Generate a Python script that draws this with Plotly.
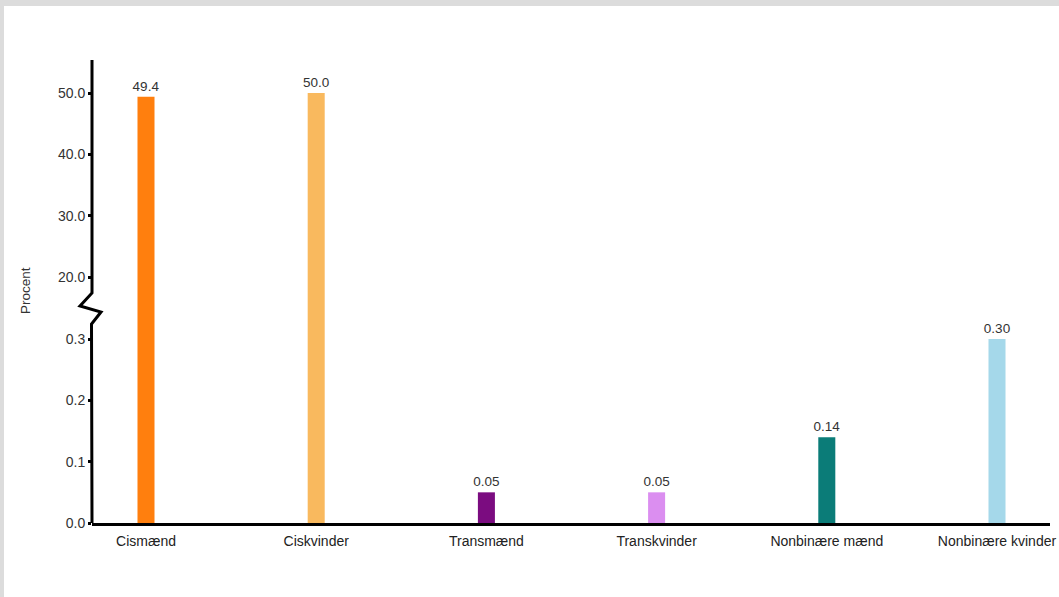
import plotly.graph_objects as go

categories = ["Cismænd", "Ciskvinder", "Transmænd", "Transkvinder", "Nonbinære mænd", "Nonbinære kvinder"]
values = [49.4, 50.0, 0.05, 0.05, 0.14, 0.30]
value_labels = ["49.4", "50.0", "0.05", "0.05", "0.14", "0.30"]
colors = ["#FF7F0E", "#F9B95E", "#7B0C80", "#DB8EF0", "#0B7C78", "#A5D8EA"]
lower_ticks = [0.0, 0.1, 0.2, 0.3]
upper_ticks = [20.0, 30.0, 40.0, 50.0]
y_title = "Procent"

# pixel geometry of plot area
L, R, T, B = 92, 1050, 60, 523
W, H = 1059, 597
pw, ph = R - L, B - T
brk = 309
lower_top = (B - brk) / ph

def px(x):
    return (x - L) / pw

def py(y):
    return (B - y) / ph

small = [v < 1 for v in values]
lower_text = [lab if s else "" for lab, s in zip(value_labels, small)]
upper_text = ["" if s else lab for lab, s in zip(value_labels, small)]

xs = list(range(len(categories)))
font = "Liberation Sans, Arial, sans-serif"
label_font = dict(size=13.5, color="#333", family=font)

fig = go.Figure()
fig.add_trace(go.Bar(x=xs, y=values, marker=dict(color=colors, line=dict(width=0)), width=0.1,
                     text=lower_text, textposition="outside", textfont=label_font, constraintext="none",
                     xaxis="x", yaxis="y", hoverinfo="skip", showlegend=False))
fig.add_trace(go.Bar(x=xs, y=values, marker=dict(color=colors, line=dict(width=0)), width=0.1,
                     text=upper_text, textposition="outside", textfont=label_font, constraintext="none",
                     xaxis="x", yaxis="y2", hoverinfo="skip", showlegend=False))

x_lo = -(146 - L) / 170.2
x_hi = len(categories) - 1 + (R - 997) / 170.2

zig = (f"M {px(92)},{py(T)} L {px(92)},{py(293)} L {px(80)},{py(306)} "
       f"L {px(101)},{py(312)} L {px(91.5)},{py(324)} L {px(92)},{py(B)}")

tickfont = dict(size=14, color="#333", family=font)

fig.update_layout(
    width=W, height=H,
    margin=dict(l=L, r=W - R, t=T, b=H - B),
    paper_bgcolor="#DCDCDC", plot_bgcolor="rgba(0,0,0,0)",
    font=dict(family=font, size=14, color="#333"),
    xaxis=dict(domain=[0, 1], anchor="y", range=[x_lo, x_hi], tickmode="array", tickvals=xs,
               ticktext=categories, showline=True, linecolor="black", linewidth=3,
               showgrid=False, zeroline=False, ticks="", ticklabelstandoff=3, automargin=False,
               tickfont=dict(size=14, color="#222", family=font)),
    yaxis=dict(domain=[0, lower_top], range=[0, (B - brk) / 613.3], tickmode="array",
               tickvals=lower_ticks, ticktext=[f"{t:.1f}" for t in lower_ticks], automargin=False,
               showline=False, showgrid=False, zeroline=False, ticks="outside",
               ticklen=3, tickwidth=3, tickcolor="black", tickfont=tickfont),
    yaxis2=dict(domain=[lower_top, 1], anchor="x", automargin=False,
                range=[20 - (brk - 277) / 6.133, 50 + (93 - T) / 6.133], tickmode="array",
                tickvals=upper_ticks, ticktext=[f"{t:.1f}" for t in upper_ticks],
                showline=False, showgrid=False, zeroline=False, ticks="outside",
                ticklen=3, tickwidth=3, tickcolor="black", tickfont=tickfont),
    shapes=[
        dict(type="rect", xref="paper", yref="paper", x0=px(4), x1=px(W + 20), y0=py(H + 20), y1=py(6),
             fillcolor="white", line=dict(width=0), layer="below"),
        dict(type="path", xref="paper", yref="paper", path=zig, line=dict(color="black", width=3)),
    ],
    annotations=[
        dict(text=y_title, xref="paper", yref="paper", x=px(25), y=py(291), textangle=-90,
             xanchor="center", yanchor="middle",
             showarrow=False, font=dict(size=13.5, color="#333", family=font)),
    ],
)

fig.write_html("out.html", config={"displayModeBar": False},
               post_script="document.body.style.margin='0';document.body.style.padding='0';")
